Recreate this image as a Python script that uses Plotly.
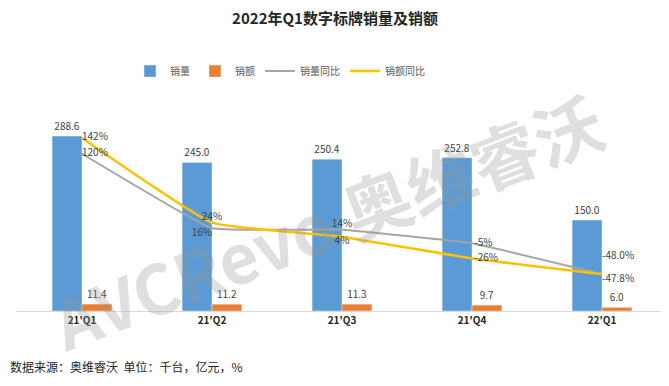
import plotly.graph_objects as go

categories = ["21'Q1", "21'Q2", "21'Q3", "21'Q4", "22'Q1"]
sales_volume = [288.6, 245.0, 250.4, 252.8, 150.0]      # 千台
sales_amount = [11.4, 11.2, 11.3, 9.7, 6.0]             # 亿元
volume_yoy = [120, 16, 14, -5, -48.0]                   # %
amount_yoy = [142, 24, 4, -26, -47.8]                   # %
yoy_decimals = [0, 0, 0, 0, 1]

FONT = "Noto Sans CJK SC"
LABEL = "#404040"
W, H = 661, 378   # page body adds an 8px margin on the top and left
NB = "\u00a0"

def pct_labels(vals, pads):
    out = []
    for v, d, p in zip(vals, yoy_decimals, pads):
        s = f"{v:.{d}f}%"
        if p == "up":
            s = s + "<br> "
        elif p == "pad":
            s = NB + s
        out.append(s)
    return out

fig = go.Figure()
fig.add_trace(go.Bar(
    x=categories, y=sales_volume, name="销量", marker_color="#5B9BD5",
    texttemplate="%{y:.1f}", textposition="outside",
    textfont=dict(size=10, color=LABEL), cliponaxis=False,
))
fig.add_trace(go.Bar(
    x=categories, y=sales_amount, name="销额", marker_color="#ED7D31",
    texttemplate="%{y:.1f}", textposition="outside",
    textfont=dict(size=10, color=LABEL), cliponaxis=False,
))
fig.add_trace(go.Scatter(
    x=categories, y=volume_yoy, name="销量同比", yaxis="y2",
    mode="lines", line=dict(color="#A5A5A5", width=2, shape="spline", smoothing=0.25),
))
fig.add_trace(go.Scatter(
    x=categories, y=amount_yoy, name="销额同比", yaxis="y2",
    mode="lines", line=dict(color="#FFC000", width=2.5, shape="spline", smoothing=0.35),
))
# data labels drawn on top of both lines
fig.add_trace(go.Scatter(
    x=categories, y=volume_yoy, yaxis="y2", mode="text", showlegend=False,
    text=pct_labels(volume_yoy, ["", "", "", "pad", "up"]),
    textposition=["middle right", "bottom left", "top center", "middle right", "top right"],
    textfont=dict(size=10, color=LABEL), cliponaxis=False, hoverinfo="skip",
))
fig.add_trace(go.Scatter(
    x=categories, y=amount_yoy, yaxis="y2", mode="text", showlegend=False,
    text=pct_labels(amount_yoy, ["", "", "", "pad", ""]),
    textposition=["middle right", "top center", "bottom center", "middle right", "bottom right"],
    textfont=dict(size=10, color=LABEL), cliponaxis=False, hoverinfo="skip",
))

fig.update_layout(
    width=W, height=H,
    margin=dict(l=9, r=2, t=92, b=75, autoexpand=False),
    paper_bgcolor="white", plot_bgcolor="white",
    font=dict(family=FONT, size=10, color=LABEL),
    barmode="group", bargap=0.54, bargroupgap=0,
    title=dict(text="<b>2022年Q1数字标牌销量及销额</b>", x=(335 - 8) / W, xref="container",
               xanchor="center", y=1 - 11 / H, yanchor="middle", pad=dict(t=0, b=0),
               font=dict(size=15, color="#262626", family=FONT)),
    legend=dict(orientation="h", x=(280 - 17) / 650, xanchor="center", y=1.137, yanchor="middle",
                font=dict(size=10, color="#595959"), itemwidth=30, traceorder="normal",
                tracegroupgap=0),
    showlegend=True,
    xaxis=dict(showline=True, linecolor="#D9D9D9", linewidth=1, ticks="",
               tickfont=dict(size=10, color="#262626", weight="bold"), showgrid=False),
    yaxis=dict(range=[0, 348], visible=False, showgrid=False),
    yaxis2=dict(range=[-99.4, 195], overlaying="y", side="right", visible=False, showgrid=False),
    annotations=[
        dict(text="数据来源：奥维睿沃  单位：千台，亿元，%", xref="paper", yref="paper",
             x=-9 / 650, y=-0.265, xanchor="left", yanchor="middle", showarrow=False,
             font=dict(size=12, color="#262626")),
        dict(text="<b>AVCRevo 奥维睿沃</b>", xref="paper", yref="paper",
             x=(326 - 17) / 650, y=(311 - 220) / 211, xanchor="center", yanchor="middle",
             showarrow=False, textangle=-21,
             font=dict(size=68, color="rgba(150,150,150,0.3)")),
    ],
)

fig.write_html("out.html")
